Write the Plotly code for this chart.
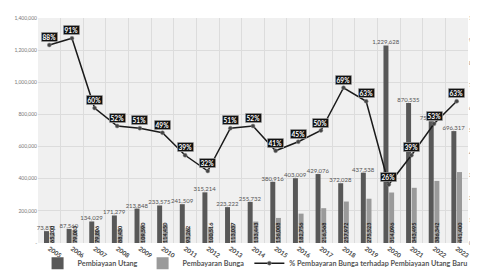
import plotly.graph_objects as go

years = [str(y) for y in range(2005, 2024)]
utang = [73871, 87560, 134029, 171279, 213848, 233575, 241509, 315214, 223222, 255732,
         380916, 403009, 429076, 372028, 437538, 1229628, 870535, 757551, 696317]
bunga = [65200, 79083, 79806, 88430, 109590, 114450, 93262, 100516, 113037, 133443,
         156008, 182756, 216568, 257972, 275523, 314096, 343495, 386342, 441400]
pct = [88, 91, 60, 52, 51, 49, 39, 32, 51, 52, 41, 45, 50, 69, 63, 26, 39, 53, 63]

left_ticks = [0, 200000, 400000, 600000, 800000, 1000000, 1200000, 1400000]
left_text = ["-", "200,000", "400,000", "600,000", "800,000", "1,000,000", "1,200,000", "1,400,000"]
right_ticks = [i / 10 for i in range(11)]
right_text = [f"{i*10}%" for i in range(11)]

FONT = "Lato"

fig = go.Figure()
fig.add_trace(go.Bar(
    x=years, y=utang, name="Pembiayaan Utang",
    marker=dict(color="#585858", line=dict(width=0)),
    text=[f"{v:,}" for v in utang], textposition="outside", textangle=0,
    constraintext="none", cliponaxis=False,
    textfont=dict(size=6, color="#555555", family=FONT),
    outsidetextfont=dict(size=6, color="#555555", family=FONT),
))
fig.add_trace(go.Bar(
    x=years, y=bunga, name="Pembayaran Bunga",
    marker=dict(color="#9a9a9a", line=dict(width=0)),
    text=[f"{v:,}" for v in bunga], textposition="inside", textangle=-90,
    insidetextanchor="start", constraintext="none",
    textfont=dict(size=5.5, color="#1e1e1e", family=FONT, weight="bold"),
    insidetextfont=dict(size=5.5, color="#1e1e1e", family=FONT, weight="bold"),
))
fig.add_trace(go.Scatter(
    x=years, y=[p / 100 for p in pct], yaxis="y2",
    name="% Pembayaran Bunga terhadap Pembiayaan Utang Baru",
    mode="lines+markers",
    line=dict(color="#1a1a1a", width=1.5),
    marker=dict(size=4, color="#444444", line=dict(color="#888888", width=0.5)),
))

for i, p in enumerate(pct):
    fig.add_annotation(
        x=i, y=p / 100, xref="x", yref="y2", text=f"<b>{p}%</b>", showarrow=False,
        yshift=8, bgcolor="#111111", bordercolor="#bbbbbb", borderwidth=0.6,
        borderpad=1, font=dict(size=6.5, color="white", family=FONT),
    )

fig.update_layout(
    width=478, height=271,
    margin=dict(l=30, r=18, t=10, b=36, autoexpand=False),
    paper_bgcolor="white", plot_bgcolor="#f0f0f0",
    barmode="group", bargap=0.5, bargroupgap=0.12,
    font=dict(family=FONT, color="#555555"),
    showlegend=True,
    legend=dict(orientation="h", x=-0.001, xanchor="left",
                y=-0.025, yanchor="top",
                font=dict(size=7.2, color="#555555", family=FONT, weight="bold"),
                itemwidth=30, tracegroupgap=0, bgcolor="rgba(0,0,0,0)"),
    xaxis=dict(type="category", tickson="boundaries", showgrid=True,
               range=[-0.5, len(years) - 0.5], automargin=False,
               gridcolor="#dcdcdc", gridwidth=1, ticks="", tickangle=35,
               tickfont=dict(size=6.3, color="#444444", family=FONT, weight="bold"),
               showline=False, zeroline=False),
    yaxis=dict(range=[0, 1400000], tickvals=left_ticks, ticktext=left_text,
               showgrid=True, gridcolor="#dcdcdc", gridwidth=1, zeroline=False,
               automargin=False,
               tickfont=dict(size=5, color="#777777", family=FONT)),
    yaxis2=dict(range=[0, 1], tickvals=right_ticks, ticktext=right_text,
                overlaying="y", side="right", showgrid=False, zeroline=False,
                automargin=False,
                tickfont=dict(size=5, color="#777777", family=FONT)),
)

fig.write_html("out.html")
